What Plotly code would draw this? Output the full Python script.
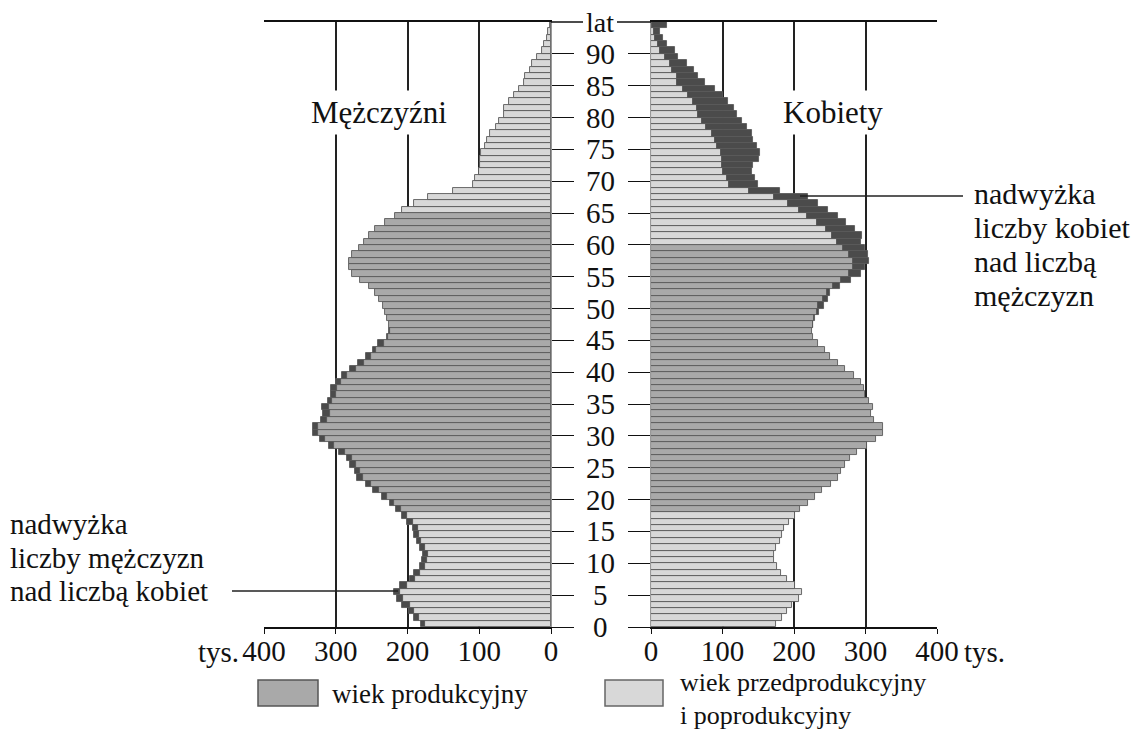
import plotly.graph_objects as go

# ---------------- data (thousands of persons, ages 0..94) ----------------
ages = list(range(95))
male = [181, 191, 198, 207, 215, 219, 210, 197, 191, 182,
        180, 179, 183, 187, 191, 192, 201, 208, 216, 225,
        235, 248, 258, 270, 273, 280, 285, 296, 309, 322,
        332, 332, 321, 318, 319, 311, 307, 306, 300, 291,
        280, 269, 258, 248, 241, 229, 226, 226, 228, 232,
        234, 240, 246, 254, 266, 277, 282, 282, 277, 268,
        260, 253, 245, 232, 218, 207, 191, 172, 137, 109,
        106, 100, 99, 99, 98, 92, 89, 85, 77, 72,
        66, 65, 59, 52, 45, 37, 36, 29, 26, 20,
        13, 10, 6, 4, 2]
female = [175, 183.5, 190.5, 197, 206.5, 211, 201, 190, 182.5, 176,
          172.5, 171.5, 175.5, 180.5, 183.5, 186, 193, 201, 208.5, 219,
          229, 239.5, 251.5, 261.5, 266, 272, 278, 287.5, 302, 315,
          325, 325, 312, 308, 310, 305, 299, 298, 293, 284,
          272, 261, 251, 244, 233, 227, 225, 227, 230, 235,
          242, 247, 251, 264, 280, 294, 299, 305, 303, 299,
          293, 295, 286, 273, 262, 248, 234, 220, 180, 149,
          145, 141, 143, 151, 152, 148, 143, 141, 134, 127,
          120, 116, 108, 101, 89, 75, 66, 60, 50, 38,
          33, 23, 17, 13, 23]
prod_start = 18
male_prod_end = 64
female_prod_end = 59

x_ticks = [0, 100, 200, 300, 400]
x_ticktext = ["0", "100", "200", "300", "400"]
y_ticks = list(range(0, 95, 5))
y_ticktext = [str(v) for v in y_ticks]
y_top_label = "lat"

legend_labels = ["wiek produkcyjny", "wiek przedprodukcyjny", "i poprodukcyjny"]

# ---------------- style ----------------
W, H = 1145, 755
OFF = 8  # page body margin
FONT = "Liberation Serif"
C_PROD = "#a9a9a9"
C_NONPROD = "#d8d8d8"
C_EXCESS = "#4b4b4b"
C_OUTLINE = "#5a5a5a"


def px(x):
    return (x - OFF) / W


def py(y):
    return 1 - (y - OFF) / H


yc = [a + 0.5 for a in ages]
overlap = [min(m, f) for m, f in zip(male, female)]
male_excess = [m - f if m > f else None for m, f in zip(male, female)]
female_excess = [f - m if f > m else None for m, f in zip(male, female)]
male_cols = [C_PROD if prod_start <= a <= male_prod_end else C_NONPROD for a in ages]
female_cols = [C_PROD if prod_start <= a <= female_prod_end else C_NONPROD for a in ages]

fig = go.Figure()
line = dict(color=C_OUTLINE, width=0.9)
fig.add_trace(go.Bar(y=yc, x=overlap, base=0, orientation="h", width=1,
                     marker=dict(color=male_cols, line=line),
                     xaxis="x", yaxis="y", hoverinfo="skip"))
fig.add_trace(go.Bar(y=yc, x=male_excess, base=female, orientation="h", width=1,
                     marker=dict(color=C_EXCESS, line=line),
                     xaxis="x", yaxis="y", hoverinfo="skip"))
fig.add_trace(go.Bar(y=yc, x=overlap, base=0, orientation="h", width=1,
                     marker=dict(color=female_cols, line=line),
                     xaxis="x2", yaxis="y2", hoverinfo="skip"))
fig.add_trace(go.Bar(y=yc, x=female_excess, base=male, orientation="h", width=1,
                     marker=dict(color=C_EXCESS, line=line),
                     xaxis="x2", yaxis="y2", hoverinfo="skip"))

ydom = [py(627), py(22)]
xaxis_common = dict(
    tickvals=x_ticks, ticktext=x_ticktext, showgrid=False, zeroline=False,
    showline=True, mirror=True, linecolor="#111", linewidth=1.5,
    ticks="outside", ticklen=5, tickcolor="#111", tickwidth=1.2,
    ticklabelstandoff=-8, automargin=False,
    tickfont=dict(family=FONT, size=29, color="#111"),
    minor=dict(tickvals=[100, 200, 300, 400], showgrid=True,
               gridcolor="#222", gridwidth=1.8, ticks=""),
)
yaxis_common = dict(
    range=[0, 95], tickvals=y_ticks, showticklabels=False, showgrid=False,
    zeroline=False, ticks="outside", ticklen=22, tickcolor="#111",
    tickwidth=1.3, showline=True, linecolor="#999", linewidth=1,
    automargin=False,
)

fig.update_layout(
    width=W, height=H, autosize=False, margin=dict(l=0, r=0, t=0, b=0, pad=0, autoexpand=False),
    paper_bgcolor="white", plot_bgcolor="white", showlegend=False,
    barmode="overlay", bargap=0,
    xaxis=dict(domain=[px(264), px(551)], range=[400, 0], anchor="y", **xaxis_common),
    xaxis2=dict(domain=[px(651), px(937)], range=[0, 400], anchor="y2", **xaxis_common),
    yaxis=dict(domain=ydom, anchor="x", side="right", **yaxis_common),
    yaxis2=dict(domain=ydom, anchor="x2", side="left", **yaxis_common),
)

ann = []
# age labels in the middle
for v, t in zip(y_ticks, y_ticktext):
    ann.append(dict(x=px(600), y=v, xref="paper", yref="y", text=t, showarrow=False,
                    xanchor="center", yanchor="middle",
                    font=dict(family=FONT, size=29, color="#111")))
ann.append(dict(x=px(600), y=ydom[1], xref="paper", yref="paper", text=y_top_label,
                showarrow=False, xanchor="center", yanchor="middle",
                font=dict(family=FONT, size=28, color="#111")))
# tys.
ann.append(dict(x=px(241), y=py(652), xref="paper", yref="paper", text="tys.",
                showarrow=False, xanchor="right", yanchor="middle",
                font=dict(family=FONT, size=29, color="#111")))
ann.append(dict(x=px(962), y=py(652), xref="paper", yref="paper", text="tys.",
                showarrow=False, xanchor="left", yanchor="middle",
                font=dict(family=FONT, size=29, color="#111")))
# panel titles
ann.append(dict(x=px(379), y=py(112), xref="paper", yref="paper", text="Mężczyźni",
                showarrow=False, bgcolor="white", borderpad=4, xanchor="center",
                yanchor="middle", font=dict(family=FONT, size=31, color="#111")))
ann.append(dict(x=px(833), y=py(112), xref="paper", yref="paper", text="Kobiety",
                showarrow=False, bgcolor="white", borderpad=4, xanchor="center",
                yanchor="middle", font=dict(family=FONT, size=31, color="#111")))
# right note
for t, yy in zip(["nadwyżka", "liczby kobiet", "nad liczbą", "mężczyzn"], [194, 228, 261, 295]):
    ann.append(dict(x=px(972), y=py(yy), xref="paper", yref="paper", text=t,
                    showarrow=False, xanchor="left", yanchor="middle",
                    font=dict(family=FONT, size=30, color="#111")))
# left note
for t, yy in zip(["nadwyżka", "liczby mężczyzn", "nad liczbą kobiet"], [524, 558, 591]):
    ann.append(dict(x=px(8), y=py(yy), xref="paper", yref="paper", text=t,
                    showarrow=False, xanchor="left", yanchor="middle",
                    font=dict(family=FONT, size=29, color="#111")))
# legend texts
ann.append(dict(x=px(330), y=py(694), xref="paper", yref="paper", text=legend_labels[0],
                showarrow=False, xanchor="left", yanchor="middle",
                font=dict(family=FONT, size=27, color="#111")))
ann.append(dict(x=px(678), y=py(682), xref="paper", yref="paper", text=legend_labels[1],
                showarrow=False, xanchor="left", yanchor="middle",
                font=dict(family=FONT, size=26, color="#111")))
ann.append(dict(x=px(678), y=py(715), xref="paper", yref="paper", text=legend_labels[2],
                showarrow=False, xanchor="left", yanchor="middle",
                font=dict(family=FONT, size=26, color="#111")))

shapes = []
# top connectors to "lat"
for x0, x1 in [(551, 583), (617, 651)]:
    shapes.append(dict(type="line", xref="paper", yref="paper", x0=px(x0), x1=px(x1),
                       y0=py(22), y1=py(22), line=dict(color="#111", width=1.5)))
# leader lines
shapes.append(dict(type="line", xref="paper", yref="paper", x0=px(800), x1=px(963),
                   y0=py(196), y1=py(196), line=dict(color="#222", width=1.3)))
shapes.append(dict(type="line", xref="paper", yref="paper", x0=px(232), x1=px(398),
                   y0=py(591), y1=py(591), line=dict(color="#222", width=1.3)))
# legend swatches
shapes.append(dict(type="rect", xref="paper", yref="paper", x0=px(258), x1=px(318),
                   y0=py(706), y1=py(680), fillcolor=C_PROD, line=dict(color="#555", width=1.5)))
shapes.append(dict(type="rect", xref="paper", yref="paper", x0=px(605), x1=px(663),
                   y0=py(706), y1=py(680), fillcolor=C_NONPROD, line=dict(color="#666", width=1.5)))

fig.update_layout(annotations=ann, shapes=shapes)
fig.write_html("out.html")
